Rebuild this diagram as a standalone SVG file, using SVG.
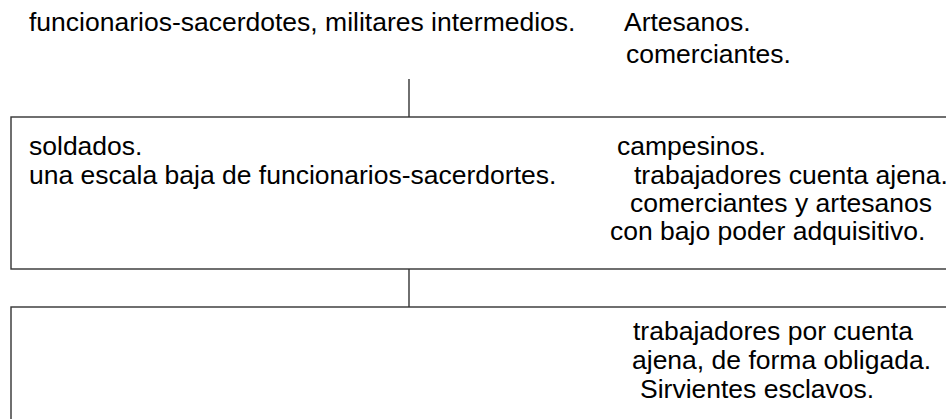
<svg xmlns="http://www.w3.org/2000/svg" width="946" height="419" viewBox="0 0 946 419">
<style>
text { font-family: "Liberation Sans", Arial, sans-serif; font-size: 26.5px; fill: #000; }
.box { fill: #fff; stroke: #333; stroke-width: 1.4; }
.conn { stroke: #333; stroke-width: 1.4; fill: none; }
</style>
<rect width="946" height="419" fill="#fff"/>
<g id="top">
<text x="29" y="31">funcionarios-sacerdotes, militares intermedios.</text>
<text x="624" y="31">Artesanos.</text>
<text x="626" y="63">comerciantes.</text>
</g>
<g id="connectors">
<line class="conn" x1="409" y1="79" x2="409" y2="117"/>
<line class="conn" x1="409" y1="269" x2="409" y2="307"/>
</g>
<g id="middle">
<rect class="box" x="11" y="117" width="960" height="152"/>
<text x="29" y="155">soldados.</text>
<text x="29" y="184">una escala baja de funcionarios-sacerdortes.</text>
<text x="617" y="155">campesinos.</text>
<text x="634" y="184">trabajadores cuenta ajena.</text>
<text x="630" y="212">comerciantes y artesanos</text>
<text x="610" y="240">con bajo poder adquisitivo.</text>
</g>
<g id="bottom">
<rect class="box" x="11" y="307" width="960" height="140"/>
<text x="633" y="340">trabajadores por cuenta</text>
<text x="632" y="369">ajena, de forma obligada.</text>
<text x="640" y="398">Sirvientes esclavos.</text>
</g>
</svg>
